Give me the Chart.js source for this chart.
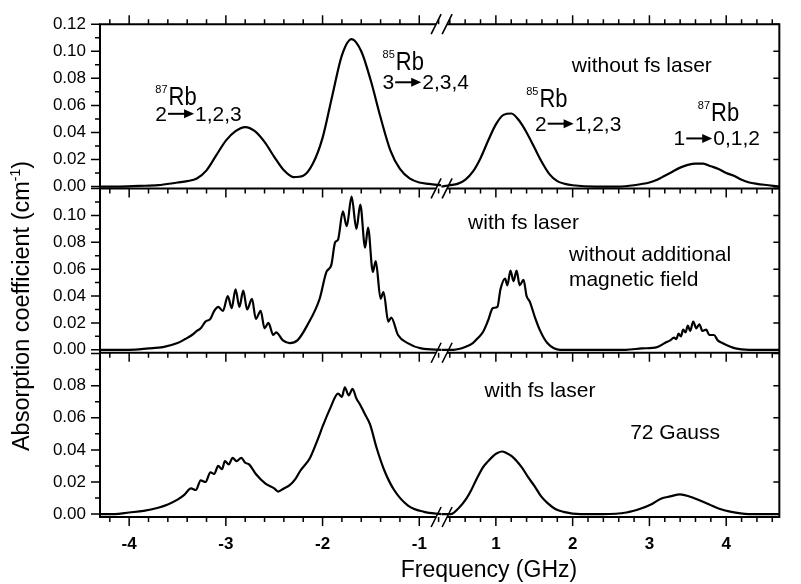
<!DOCTYPE html>
<html>
<head>
<meta charset="utf-8">
<script src="https://cdn.jsdelivr.net/npm/chart.js@4.4.0/dist/chart.umd.min.js"></script>
<style>
  html, body { margin: 0; padding: 0; background: #fff; }
  #wrap { width: 801px; height: 584px; }
</style>
</head>
<body>
<div id="wrap"><canvas id="chart" width="801" height="584"></canvas></div>
<script>
// Frequency (GHz) and absorption (cm^-1).
// Top panel: without fs laser
const freqTopL = [-4.30, -4.10, -3.90, -3.70, -3.50, -3.40, -3.30, -3.20, -3.10, -3.00, -2.90, -2.80, -2.70, -2.60, -2.50, -2.40, -2.30, -2.20, -2.10, -2.00, -1.90, -1.80, -1.70, -1.60, -1.50, -1.40, -1.30, -1.20, -1.10, -1.00, -0.90, -0.77];
const absTopL  = [0.000, 0.000, 0.0005, 0.001, 0.003, 0.004, 0.006, 0.012, 0.023, 0.034, 0.041, 0.044, 0.041, 0.033, 0.022, 0.012, 0.007, 0.008, 0.017, 0.036, 0.067, 0.097, 0.109, 0.100, 0.078, 0.051, 0.027, 0.013, 0.006, 0.003, 0.002, 0.001];
const freqTopR = [0.29, 0.40, 0.50, 0.60, 0.70, 0.80, 0.90, 1.00, 1.10, 1.20, 1.30, 1.40, 1.50, 1.60, 1.70, 1.80, 1.90, 2.00, 2.30, 2.60, 2.80, 3.00, 3.10, 3.20, 3.30, 3.40, 3.50, 3.60, 3.70, 3.80, 3.90, 4.00, 4.10, 4.20, 4.30, 4.40, 4.55, 4.69];
const absTopR  = [0.000, 0.001, 0.002, 0.005, 0.011, 0.021, 0.034, 0.046, 0.053, 0.054, 0.049, 0.040, 0.029, 0.018, 0.009, 0.004, 0.002, 0.001, 0.000, 0.000, 0.001, 0.003, 0.005, 0.008, 0.011, 0.014, 0.016, 0.017, 0.017, 0.015, 0.013, 0.010, 0.008, 0.005, 0.003, 0.002, 0.001, 0.000];

// Middle panel: with fs laser, no extra field
const freqMidL = [-4.30, -4.00, -3.80, -3.65, -3.50, -3.42, -3.35, -3.30, -3.26, -3.21, -3.16, -3.12, -3.08, -3.03, -2.98, -2.94, -2.90, -2.86, -2.82, -2.78, -2.73, -2.69, -2.64, -2.60, -2.56, -2.51, -2.48, -2.41, -2.34, -2.26, -2.16, -2.03, -1.96, -1.91, -1.87, -1.84, -1.79, -1.75, -1.70, -1.65, -1.61, -1.56, -1.53, -1.48, -1.45, -1.40, -1.37, -1.32, -1.29, -1.22, -1.12, -0.98, -0.77];
const absMidL  = [0.000, 0.000, 0.001, 0.002, 0.005, 0.008, 0.011, 0.014, 0.016, 0.021, 0.023, 0.029, 0.032, 0.029, 0.040, 0.031, 0.045, 0.032, 0.044, 0.030, 0.038, 0.023, 0.029, 0.016, 0.020, 0.011, 0.013, 0.007, 0.005, 0.007, 0.018, 0.038, 0.058, 0.063, 0.080, 0.082, 0.103, 0.092, 0.114, 0.090, 0.108, 0.076, 0.091, 0.058, 0.066, 0.038, 0.043, 0.021, 0.024, 0.011, 0.005, 0.001, 0.000];
const freqMidR = [0.29, 0.45, 0.60, 0.70, 0.77, 0.83, 0.90, 0.96, 1.02, 1.06, 1.12, 1.15, 1.19, 1.23, 1.27, 1.31, 1.36, 1.40, 1.44, 1.51, 1.57, 1.67, 1.84, 2.69, 2.90, 3.10, 3.20, 3.27, 3.32, 3.35, 3.38, 3.41, 3.44, 3.47, 3.50, 3.53, 3.57, 3.61, 3.65, 3.69, 3.74, 3.78, 3.84, 3.89, 3.95, 4.12, 4.30, 4.69];
const absMidR  = [0.000, 0.000, 0.002, 0.005, 0.009, 0.013, 0.022, 0.031, 0.032, 0.045, 0.053, 0.048, 0.059, 0.051, 0.059, 0.048, 0.052, 0.040, 0.036, 0.024, 0.015, 0.005, 0.000, 0.000, 0.001, 0.002, 0.005, 0.007, 0.009, 0.008, 0.012, 0.010, 0.015, 0.013, 0.018, 0.014, 0.021, 0.016, 0.019, 0.014, 0.015, 0.011, 0.011, 0.007, 0.005, 0.001, 0.000, 0.000];

// Bottom panel: with fs laser, 72 Gauss
const freqBotL = [-4.30, -4.15, -4.00, -3.85, -3.70, -3.60, -3.50, -3.43, -3.36, -3.31, -3.26, -3.21, -3.16, -3.12, -3.08, -3.04, -3.01, -2.97, -2.93, -2.89, -2.84, -2.80, -2.76, -2.69, -2.59, -2.50, -2.46, -2.40, -2.34, -2.28, -2.23, -2.13, -2.06, -1.99, -1.92, -1.84, -1.80, -1.77, -1.73, -1.69, -1.65, -1.61, -1.56, -1.51, -1.44, -1.36, -1.26, -1.12, -0.95, -0.77];
const absBotL  = [0.000, 0.000, 0.001, 0.002, 0.004, 0.006, 0.009, 0.012, 0.016, 0.015, 0.021, 0.020, 0.026, 0.025, 0.030, 0.028, 0.033, 0.031, 0.035, 0.033, 0.035, 0.032, 0.031, 0.025, 0.019, 0.016, 0.014, 0.016, 0.018, 0.022, 0.027, 0.035, 0.045, 0.056, 0.066, 0.075, 0.073, 0.079, 0.074, 0.078, 0.072, 0.068, 0.062, 0.056, 0.041, 0.027, 0.015, 0.0055, 0.0014, 0.000];
const freqBotR = [0.29, 0.41, 0.52, 0.62, 0.68, 0.74, 0.83, 0.90, 0.96, 1.02, 1.08, 1.14, 1.21, 1.34, 1.42, 1.51, 1.59, 1.67, 1.78, 1.88, 2.10, 2.39, 2.70, 2.89, 3.02, 3.15, 3.27, 3.40, 3.52, 3.65, 3.78, 3.90, 4.05, 4.29, 4.69];
const absBotR  = [0.000, 0.000, 0.004, 0.010, 0.015, 0.021, 0.029, 0.033, 0.036, 0.038, 0.039, 0.038, 0.036, 0.029, 0.023, 0.017, 0.011, 0.007, 0.003, 0.0014, 0.000, 0.000, 0.001, 0.0035, 0.006, 0.0096, 0.011, 0.0123, 0.011, 0.0086, 0.006, 0.0035, 0.0015, 0.000, 0.000];

// Tick labels
const xTicksLeft = [-4, -3, -2, -1];
const xTicksRight = [1, 2, 3, 4];
const yTicksTop = [0, 0.02, 0.04, 0.06, 0.08, 0.10, 0.12];
const yTicksMid = [0, 0.02, 0.04, 0.06, 0.08, 0.10];
const yTicksBot = [0, 0.02, 0.04, 0.06, 0.08];

const FONT = "'Liberation Sans', Arial, sans-serif";

// Text labels placed in data coordinates of their panel
const isotopes = [
  { xs: 'xL', ys: 'yTop', f: -3.729, v: 0.0603, mass: '87', el: 'Rb' },
  { xs: 'xL', ys: 'yTop', f: -1.380, v: 0.0865, mass: '85', el: 'Rb' },
  { xs: 'xR', ys: 'yTop', f: 1.395, v: 0.0588, mass: '85', el: 'Rb' },
  { xs: 'xR', ys: 'yTop', f: 3.630, v: 0.0486, mass: '87', el: 'Rb' }
];
const transitions = [
  { xs: 'xL', ys: 'yTop', f: -3.729, v: 0.0486, from: '2', to: '1,2,3' },
  { xs: 'xL', ys: 'yTop', f: -1.380, v: 0.0719, from: '3', to: '2,3,4' },
  { xs: 'xR', ys: 'yTop', f: 1.509, v: 0.0413, from: '2', to: '1,2,3' },
  { xs: 'xR', ys: 'yTop', f: 3.314, v: 0.0304, from: '1', to: '0,1,2' }
];
const notes = [
  { xs: 'xR', ys: 'yTop', f: 1.989, v: 0.0850, text: 'without fs laser' },
  { xs: 'xR', ys: 'yMid', f: 0.638, v: 0.0897, text: 'with fs laser' },
  { xs: 'xR', ys: 'yMid', f: 1.951, v: 0.0663, text: 'without additional' },
  { xs: 'xR', ys: 'yMid', f: 1.951, v: 0.0472, text: 'magnetic field' },
  { xs: 'xR', ys: 'yBot', f: 0.853, v: 0.0731, text: 'with fs laser' },
  { xs: 'xR', ys: 'yBot', f: 2.749, v: 0.0467, text: '72 Gauss' }
];

function pts(xs, ys) {
  return xs.map((x, i) => ({ x: x, y: ys[i] }));
}

function fixTicks(values) {
  return function (scale) {
    scale.ticks = values.map(v => ({ value: v }));
  };
}

function yScale(min, max, ticks) {
  return {
    type: 'linear', position: 'left', stack: 'panels', stackWeight: 1,
    min: min, max: max,
    afterBuildTicks: fixTicks(ticks),
    afterFit: s => { s.width = 100; },
    grid: { display: false, drawTicks: false },
    border: { display: false },
    ticks: {
      color: '#000', padding: 14, autoSkip: false,
      font: { family: FONT, size: 17 },
      callback: v => Number(v).toFixed(2)
    }
  };
}

function xScale(min, max, ticks, weight) {
  return {
    type: 'linear', position: 'bottom', stack: 'freq', stackWeight: weight,
    min: min, max: max,
    afterBuildTicks: fixTicks(ticks),
    afterFit: s => { s.height = 67; },
    grid: { display: false, drawTicks: false },
    border: { display: false },
    ticks: {
      color: '#000', padding: 17, maxRotation: 0, autoSkip: false,
      font: { family: FONT, size: 17, weight: 'bold' }
    }
  };
}

const line = {
  borderColor: '#000', borderWidth: 2.2, pointRadius: 0,
  cubicInterpolationMode: 'monotone', fill: false
};

// frame, break marks, tick marks and labels
const framePlugin = {
  id: 'frame',
  afterDatasetsDraw(chart) {
    const ctx = chart.ctx;
    const s = chart.scales;
    const area = chart.chartArea;
    const brk = s.xL.right;
    const g1 = brk - 5, g2 = brk + 6;
    const hLines = [s.yTop.top, s.yTop.bottom, s.yMid.bottom, s.yBot.bottom];

    ctx.save();
    ctx.strokeStyle = '#000';
    ctx.fillStyle = '#000';
    ctx.lineWidth = 2;
    ctx.lineCap = 'butt';

    // spines
    ctx.beginPath();
    ctx.moveTo(area.left, area.top - 1); ctx.lineTo(area.left, area.bottom + 1);
    ctx.moveTo(area.right, area.top - 1); ctx.lineTo(area.right, area.bottom + 1);
    hLines.forEach(y => {
      ctx.moveTo(area.left, y); ctx.lineTo(g1, y);
      ctx.moveTo(g2, y); ctx.lineTo(area.right, y);
    });
    ctx.stroke();

    // x ticks
    ctx.lineWidth = 1.5;
    ctx.beginPath();
    [[s.xL, xTicksLeft], [s.xR, xTicksRight]].forEach(([sc, majors]) => {
      const start = Math.ceil(sc.min / 0.2 - 1e-6);
      const end = Math.floor(sc.max / 0.2 + 1e-6);
      for (let k = start; k <= end; k++) {
        const val = k * 0.2;
        const px = sc.getPixelForValue(val);
        const isMajor = majors.some(m => Math.abs(m - val) < 1e-6);
        const len = isMajor ? 9 : 5;
        hLines.forEach((y, i) => {
          const dir = i === 0 ? -1 : 1;
          ctx.moveTo(px, y); ctx.lineTo(px, y + dir * len);
        });
      }
    });
    ctx.stroke();

    // y ticks
    ctx.beginPath();
    [[s.yTop, yTicksTop], [s.yMid, yTicksMid], [s.yBot, yTicksBot]].forEach(([sc, majors]) => {
      for (let k = 0; k * 0.01 <= sc.max + 1e-9; k++) {
        const val = k * 0.01;
        const py = sc.getPixelForValue(val);
        const isMajor = k % 2 === 0;
        if (majors.some(m => Math.abs(m - val) < 1e-6) || (isMajor && val < sc.max)) {
          ctx.moveTo(area.left, py); ctx.lineTo(area.left - 9, py);
          ctx.moveTo(area.right, py); ctx.lineTo(area.right - 6, py);
        } else {
          ctx.moveTo(area.left, py); ctx.lineTo(area.left - 5, py);
        }
      }
    });
    ctx.stroke();

    // break marks
    ctx.lineWidth = 1.6;
    ctx.beginPath();
    hLines.forEach(y => {
      [g1, g2].forEach(gx => {
        ctx.moveTo(gx - 5, y + 10); ctx.lineTo(gx + 5, y - 10);
      });
    });
    ctx.stroke();

    // annotations
    ctx.textBaseline = 'alphabetic';
    ctx.textAlign = 'left';
    isotopes.forEach(a => {
      const px = s[a.xs].getPixelForValue(a.f);
      const py = s[a.ys].getPixelForValue(a.v);
      ctx.font = '11px ' + FONT;
      ctx.fillText(a.mass, px, py - 12);
      const w = ctx.measureText(a.mass).width;
      ctx.save();
      ctx.translate(px + w + 1, py);
      ctx.scale(1, 1.2);
      ctx.font = '22px ' + FONT;
      ctx.fillText(a.el, 0, 0);
      ctx.restore();
    });
    transitions.forEach(t => {
      const px = s[t.xs].getPixelForValue(t.f);
      const py = s[t.ys].getPixelForValue(t.v);
      ctx.font = '21px ' + FONT;
      ctx.fillText(t.from, px, py);
      const x0 = px + ctx.measureText(t.from).width + 1;
      const x1 = x0 + 26;
      const ay = py - 7;
      ctx.lineWidth = 2;
      ctx.beginPath();
      ctx.moveTo(x0, ay); ctx.lineTo(x1 - 6, ay);
      ctx.stroke();
      ctx.beginPath();
      ctx.moveTo(x1, ay); ctx.lineTo(x1 - 10, ay - 4.5); ctx.lineTo(x1 - 10, ay + 4.5);
      ctx.closePath();
      ctx.fill();
      ctx.fillText(t.to, x1 + 1, py);
    });
    ctx.font = '21px ' + FONT;
    notes.forEach(n => {
      const px = s[n.xs].getPixelForValue(n.f);
      const py = s[n.ys].getPixelForValue(n.v);
      ctx.fillText(n.text, px, py);
    });

    // axis titles
    ctx.font = '23px ' + FONT;
    ctx.textAlign = 'left';
    const xt = 'Frequency (GHz)';
    const xw = ctx.measureText(xt).width;
    ctx.fillText(xt, 489 - xw / 2, 577);

    const p1 = 'Absorption coefficient (cm';
    const p2 = '-1';
    const p3 = ')';
    ctx.save();
    ctx.translate(29, 306);
    ctx.rotate(-Math.PI / 2);
    ctx.font = '23.5px ' + FONT;
    const w1 = ctx.measureText(p1).width;
    const w3 = ctx.measureText(p3).width;
    ctx.font = '14px ' + FONT;
    const w2 = ctx.measureText(p2).width;
    const total = w1 + w2 + w3;
    let cx = -total / 2;
    ctx.font = '23.5px ' + FONT;
    ctx.fillText(p1, cx, 0);
    cx += w1;
    ctx.font = '14px ' + FONT;
    ctx.fillText(p2, cx, -9);
    cx += w2;
    ctx.font = '23.5px ' + FONT;
    ctx.fillText(p3, cx, 0);
    ctx.restore();

    ctx.restore();
  }
};

new Chart(document.getElementById('chart').getContext('2d'), {
  type: 'line',
  data: {
    datasets: [
      { ...line, data: pts(freqTopL, absTopL), xAxisID: 'xL', yAxisID: 'yTop' },
      { ...line, data: pts(freqTopR, absTopR), xAxisID: 'xR', yAxisID: 'yTop' },
      { ...line, data: pts(freqMidL, absMidL), xAxisID: 'xL', yAxisID: 'yMid' },
      { ...line, data: pts(freqMidR, absMidR), xAxisID: 'xR', yAxisID: 'yMid' },
      { ...line, data: pts(freqBotL, absBotL), xAxisID: 'xL', yAxisID: 'yBot' },
      { ...line, data: pts(freqBotR, absBotR), xAxisID: 'xR', yAxisID: 'yBot' }
    ]
  },
  options: {
    responsive: false,
    animation: false,
    layout: { padding: { top: 17, right: 2, left: 0, bottom: 0 } },
    plugins: { legend: { display: false }, tooltip: { enabled: false } },
    scales: {
      xL: xScale(-4.3015, -0.774, xTicksLeft, 351),
      xR: xScale(0.287, 4.692, xTicksRight, 348),
      yBot: yScale(-0.0018, 0.1005, yTicksBot),
      yMid: yScale(-0.0022, 0.1201, yTicksMid),
      yTop: yScale(-0.0014, 0.12, yTicksTop)
    }
  },
  plugins: [framePlugin]
});
</script>
</body>
</html>
